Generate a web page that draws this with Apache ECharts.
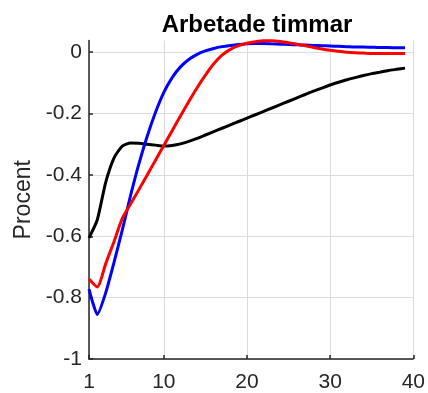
<!DOCTYPE html>
<html>
<head>
<meta charset="utf-8">
<script src="https://cdn.jsdelivr.net/npm/echarts@6/dist/echarts.min.js"></script>
<style>
html,body{margin:0;padding:0;background:#fff;}
#c{width:428px;height:393px;}
</style>
</head>
<body>
<div id="c"></div>
<script>
var titleText = "Arbetade timmar";
var yName = "Procent";
var xTicks = [1, 10, 20, 30, 40];
var yTicks = [-1, -0.8, -0.6, -0.4, -0.2, 0];
var periods = [];
for (var i = 1; i <= 39; i++) periods.push(i);

var blueVals = [-0.772, -0.855, -0.785, -0.686, -0.58, -0.467, -0.364, -0.274, -0.196, -0.131,
  -0.083, -0.048, -0.024, -0.007, 0.004, 0.012, 0.018, 0.022, 0.025, 0.027,
  0.028, 0.028, 0.027, 0.026, 0.025, 0.024, 0.023, 0.022, 0.021, 0.020,
  0.019, 0.018, 0.017, 0.017, 0.016, 0.015, 0.015, 0.014, 0.014];
var redVals = [-0.739, -0.765, -0.69, -0.618, -0.542, -0.495, -0.448, -0.40, -0.352, -0.304,
  -0.256, -0.208, -0.161, -0.116, -0.075, -0.038, -0.01, 0.009, 0.021, 0.029,
  0.034, 0.037, 0.037, 0.035, 0.031, 0.026, 0.021, 0.015, 0.01, 0.006,
  0.003, 0.0, -0.002, -0.003, -0.004, -0.004, -0.004, -0.004, -0.004];
var blackVals = [-0.605, -0.546, -0.425, -0.345, -0.306, -0.296, -0.297, -0.300, -0.303, -0.306,
  -0.304, -0.299, -0.291, -0.281, -0.27, -0.259, -0.248, -0.237, -0.226, -0.215,
  -0.204, -0.193, -0.182, -0.171, -0.16, -0.149, -0.138, -0.127, -0.117, -0.107,
  -0.098, -0.09, -0.083, -0.076, -0.07, -0.065, -0.06, -0.056, -0.052];

function pairs(vals){ return periods.map(function(p, i){ return [p, vals[i]]; }); }

var font = "'Liberation Sans', Arial, sans-serif";
var chart = echarts.init(document.getElementById('c'), null, {renderer: 'canvas'});
chart.setOption({
  animation: false,
  backgroundColor: '#ffffff',
  title: {
    text: titleText,
    left: 252,
    textAlign: 'center',
    top: 8,
    textStyle: {fontFamily: font, fontSize: 24, fontWeight: 'bold', color: '#000'}
  },
  grid: {left: 89, right: 13, top: 40.5, bottom: 33.7, containLabel: false},
  xAxis: {
    type: 'value', min: 1, max: 40,
    axisLine: {show: true, onZero: false, lineStyle: {color: '#262626', width: 1.5}},
    axisTick: {show: true, inside: true, length: 4, customValues: xTicks, lineStyle: {color: '#262626', width: 1.5}},
    axisLabel: {customValues: xTicks, margin: 13, color: '#262626', fontFamily: font, fontSize: 21},
    splitLine: {show: true, lineStyle: {color: '#dcdcdc', width: 1}}
  },
  yAxis: {
    type: 'value', min: -1, max: 0.038,
    name: yName, nameLocation: 'middle', nameGap: 52,
    nameTextStyle: {fontFamily: font, fontSize: 23, color: '#262626'},
    axisLine: {show: true, onZero: false, lineStyle: {color: '#262626', width: 1.5}},
    axisTick: {show: true, inside: true, length: 4, customValues: yTicks, lineStyle: {color: '#262626', width: 1.5}},
    axisLabel: {customValues: yTicks, margin: 7, color: '#262626', fontFamily: font, fontSize: 21,
      formatter: function(v){ return String(Math.round(v*10)/10); }},
    splitLine: {show: true, lineStyle: {color: '#dcdcdc', width: 1}}
  },
  series: [
    {type: 'line', data: pairs(blackVals), symbol: 'none', smooth: 0.2, lineStyle: {color: '#000000', width: 3}, z: 3},
    {type: 'line', data: pairs(blueVals), symbol: 'none', smooth: 0.2, lineStyle: {color: '#0000ff', width: 3}, z: 4},
    {type: 'line', data: pairs(redVals), symbol: 'none', smooth: 0.2, lineStyle: {color: '#ff0000', width: 3}, z: 5}
  ]
});
</script>
</body>
</html>
